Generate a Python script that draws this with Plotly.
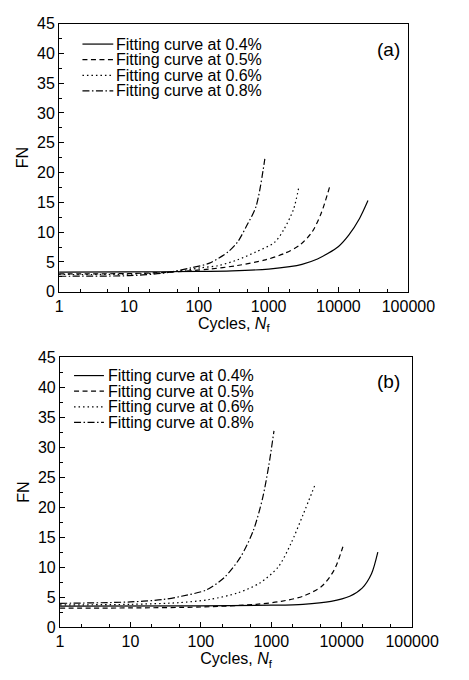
import plotly.graph_objects as go

# ---------------- data ----------------
series_names = ["Fitting curve at 0.4%", "Fitting curve at 0.5%",
                "Fitting curve at 0.6%", "Fitting curve at 0.8%"]

# panel (a)
a04_x = [1, 10, 100, 300, 1000, 2000, 3000, 5000, 7000, 10000, 14000, 20000, 26400]
a04_y = [3.3, 3.32, 3.4, 3.5, 3.8, 4.2, 4.6, 5.5, 6.4, 7.6, 9.5, 12.3, 15.3]
a05_x = [1, 10, 40, 142, 357, 898, 1660, 2770, 4170, 5680, 7500]
a05_y = [3.0, 3.05, 3.3, 3.8, 4.4, 5.35, 6.4, 7.8, 10.0, 13.25, 17.7]
a06_x = [1, 10, 40, 105, 193, 357, 661, 1220, 1660, 2265, 2720]
a06_y = [2.9, 2.95, 3.3, 4.0, 4.4, 5.35, 6.7, 8.3, 10.5, 13.8, 17.7]
a08_x = [1, 10, 30, 77, 142, 263, 357, 486, 661, 881]
a08_y = [2.6, 2.7, 3.1, 4.0, 4.8, 6.7, 8.3, 11.1, 14.35, 22.3]

# panel (b)
b04_x = [1, 100, 1000, 2820, 7060, 13000, 19500, 26500, 32600]
b04_y = [3.5, 3.55, 3.65, 3.8, 4.3, 5.15, 6.5, 8.9, 12.5]
b05_x = [1, 10, 100, 611, 1380, 2820, 5200, 7810, 10400]
b05_y = [3.15, 3.2, 3.35, 3.8, 4.3, 5.15, 6.8, 9.5, 13.4]
b06_x = [1, 10, 48, 132, 331, 676, 1250, 1880, 2820, 4240]
b06_y = [3.7, 3.8, 4.07, 4.6, 5.7, 7.3, 10.0, 13.8, 18.7, 23.9]
b08_x = [1, 10, 29, 53, 120, 221, 367, 552, 750, 918, 1092]
b08_y = [3.96, 4.2, 4.6, 5.15, 6.2, 8.4, 11.7, 16.0, 21.4, 26.8, 32.7]

x_tickvals = [1, 10, 100, 1000, 10000, 100000]
x_ticktext = ["1", "10", "100", "1000", "10000", "100000"]
y_tickvals = [0, 5, 10, 15, 20, 25, 30, 35, 40, 45]
panel_labels = ["(a)", "(b)"]

# ---------------- styling ----------------
W, H = 469, 680
FONT = "Liberation Sans, Arial, sans-serif"
dashes = ["solid", "5px,3.5px", "1.5px,3px", "7px,2.5px,1.5px,2.5px"]
LW = 1.2

panels = [
    [(a04_x, a04_y), (a05_x, a05_y), (a06_x, a06_y), (a08_x, a08_y)],
    [(b04_x, b04_y), (b05_x, b05_y), (b06_x, b06_y), (b08_x, b08_y)],
]
# plot areas in pixels: (left, right, top, bottom)
areas = [(59, 433, 16, 291), (60, 437, 358, 635)]
legend_px = [(84, 117, 119, 37), (75, 107, 110, 377)]  # x0, x1, text x, first y
label_px = [(412, 43), (412, 383)]
LEG_STEP = 16

fig = go.Figure()
for p, series in enumerate(panels):
    xa = "x" if p == 0 else "x2"
    ya = "y" if p == 0 else "y2"
    for (xs, ys), name, d in zip(series, series_names, dashes):
        fig.add_trace(go.Scatter(
            x=xs, y=ys, mode="lines", name=name, showlegend=False,
            line=dict(color="black", width=LW, dash=d, shape="spline", smoothing=0.8),
            xaxis=xa, yaxis=ya))

axis_common = dict(showline=True, linecolor="black", linewidth=1.2, mirror=True,
                   ticks="inside", tickcolor="black", showgrid=False, zeroline=False,
                   tickfont=dict(family=FONT, size=16, color="black"))
for p, (l, r, t, b) in enumerate(areas):
    suffix = "" if p == 0 else "2"
    xdom = [l / W, r / W]
    ydom = [1 - b / H, 1 - t / H]
    fig.update_layout(**{
        "xaxis" + suffix: dict(
            axis_common, type="log", range=[0, 5], domain=xdom,
            anchor="y" + suffix, tickvals=x_tickvals, ticktext=x_ticktext,
            ticklen=5, tickwidth=1,
            minor=dict(ticks="inside", ticklen=3, tickcolor="black",
                       tickwidth=1, showgrid=False),
            title=dict(text="Cycles, <i>N</i><sub>f</sub>",
                       font=dict(family=FONT, size=16, color="black"), standoff=1)),
        "yaxis" + suffix: dict(
            axis_common, range=[0, 45], domain=ydom, anchor="x" + suffix,
            tickvals=y_tickvals, ticklen=5, tickwidth=1,
            minor=dict(ticks="inside", ticklen=3, dtick=2.5, tickcolor="black",
                       tickwidth=1, showgrid=False),
            title=dict(text="FN", font=dict(family=FONT, size=16, color="black"),
                       standoff=4)),
    })

# legends drawn as line samples + text
for p, (x0, x1, tx, y0) in enumerate(legend_px):
    for i, (name, d) in enumerate(zip(series_names, dashes)):
        yy = 1 - (y0 + i * LEG_STEP) / H
        fig.add_shape(type="line", xref="paper", yref="paper",
                      x0=x0 / W, x1=x1 / W, y0=yy, y1=yy,
                      line=dict(color="black", width=LW, dash=d))
        fig.add_annotation(xref="paper", yref="paper", x=tx / W, y=yy,
                           xanchor="left", yanchor="middle", showarrow=False,
                           borderpad=0, text=name,
                           font=dict(family=FONT, size=16, color="black"))
    lx, ly = label_px[p]
    fig.add_annotation(xref="paper", yref="paper", x=lx / W, y=1 - ly / H,
                       xanchor="center", yanchor="middle", showarrow=False,
                       text=panel_labels[p], font=dict(family=FONT, size=19, color="black"))

fig.update_layout(width=W, height=H, margin=dict(l=0, r=0, t=0, b=0),
                  paper_bgcolor="white", plot_bgcolor="white", showlegend=False)
fig.write_html("out.html")
